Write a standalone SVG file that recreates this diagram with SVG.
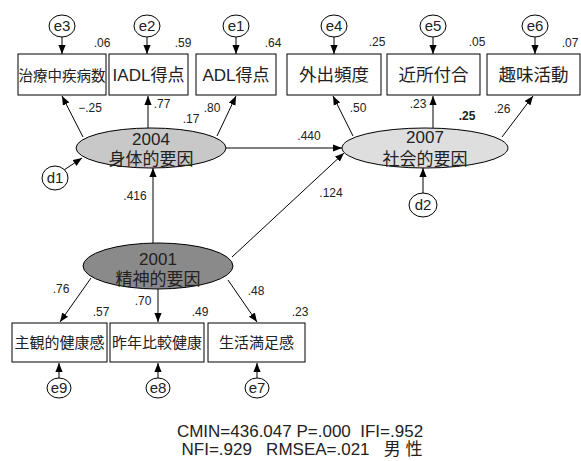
<svg xmlns="http://www.w3.org/2000/svg" width="581" height="461" viewBox="0 0 581 461">
<defs>
<marker id="ah" markerUnits="userSpaceOnUse" markerWidth="9" markerHeight="8" viewBox="0 0 10 8" refX="10" refY="4" orient="auto">
<path d="M0,0 L10,4 L0,8 z" fill="#000"/>
</marker>
<style>
.box{fill:#fff;stroke:#000;stroke-width:1}
.cir{fill:#fff;stroke:#000;stroke-width:1}
.t{font-family:"Liberation Sans","Noto Sans CJK JP",sans-serif;text-anchor:middle;fill:#222}
.lbl{font-family:"Liberation Sans","Noto Sans CJK JP",sans-serif;font-size:12px;text-anchor:middle;fill:#222}
.ct{font-size:15px}
.ln{stroke:#000;stroke-width:1;fill:none;marker-end:url(#ah)}
</style>
</defs>
<rect width="581" height="461" fill="#fff"/>

<g id="connectors">
<path class="ln" d="M62,37 L62,54"/>
<path class="ln" d="M147,37 L147,54"/>
<path class="ln" d="M236,37 L236,54"/>
<path class="ln" d="M334,37 L334,54"/>
<path class="ln" d="M433,37 L433,54"/>
<path class="ln" d="M535,37 L535,54"/>
<path class="ln" d="M83,137 L62,96"/>
<path class="ln" d="M148,128 L148,96"/>
<path class="ln" d="M217,136 L236,96"/>
<path class="ln" d="M226,148 L342,148"/>
<path class="ln" d="M153,243 L153,168"/>
<path class="ln" d="M232,257 L344,153"/>
<path class="ln" d="M353,136 L333,96"/>
<path class="ln" d="M433,128 L433,96"/>
<path class="ln" d="M502,137 L533,96"/>
<path class="ln" d="M423,193 L423,168"/>
<path class="ln" d="M64,170 L82,158"/>
<path class="ln" d="M91,278 L60,322"/>
<path class="ln" d="M158,289 L158,322"/>
<path class="ln" d="M228,280 L257,322"/>
<path class="ln" d="M59,378 L59,363"/>
<path class="ln" d="M158,378 L158,363"/>
<path class="ln" d="M257,378 L257,363"/>
</g>

<g id="e3"><ellipse class="cir" cx="62" cy="26" rx="13" ry="11"/><text class="t ct" x="62" y="31">e3</text></g>
<g id="e2"><ellipse class="cir" cx="147" cy="26" rx="13" ry="11"/><text class="t ct" x="147" y="31">e2</text></g>
<g id="e1"><ellipse class="cir" cx="236" cy="26" rx="13" ry="11"/><text class="t ct" x="236" y="31">e1</text></g>
<g id="e4"><ellipse class="cir" cx="334" cy="26" rx="13" ry="11"/><text class="t ct" x="334" y="31">e4</text></g>
<g id="e5"><ellipse class="cir" cx="433" cy="26" rx="13" ry="11"/><text class="t ct" x="433" y="31">e5</text></g>
<g id="e6"><ellipse class="cir" cx="535" cy="26" rx="13" ry="11"/><text class="t ct" x="535" y="31">e6</text></g>

<g id="chiryo"><rect class="box" x="18" y="54" width="88" height="41"/><text class="t" x="62" y="81" font-size="14.5">治療中疾病数</text></g>
<g id="iadl"><rect class="box" x="109" y="54" width="79" height="41"/><text class="t" x="148.5" y="81" font-size="17">IADL得点</text></g>
<g id="adl"><rect class="box" x="196" y="54" width="80" height="41"/><text class="t" x="236" y="81" font-size="17">ADL得点</text></g>
<g id="gaishutsu"><rect class="box" x="287" y="54" width="94" height="41"/><text class="t" x="334" y="81" font-size="17.5">外出頻度</text></g>
<g id="kinjo"><rect class="box" x="387" y="54" width="93" height="41"/><text class="t" x="433.5" y="81" font-size="17.5">近所付合</text></g>
<g id="shumi"><rect class="box" x="487" y="54" width="93" height="41"/><text class="t" x="533.5" y="81" font-size="17.5">趣味活動</text></g>

<g id="f2004"><ellipse cx="151" cy="148" rx="75" ry="20" fill="#c8c8c8" stroke="#000"/><text class="t" x="151" y="145" font-size="17">2004</text><text class="t" x="151" y="165" font-size="17">身体的要因</text></g>
<g id="f2007"><ellipse cx="425" cy="148" rx="83" ry="20" fill="#dedede" stroke="#000"/><text class="t" x="425" y="143" font-size="17">2007</text><text class="t" x="425" y="165" font-size="17">社会的要因</text></g>
<g id="f2001"><ellipse cx="158" cy="266" rx="75" ry="23" fill="#8a8a8a" stroke="#000"/><text class="t" x="158" y="265" font-size="17">2001</text><text class="t" x="158" y="285" font-size="17">精神的要因</text></g>

<g id="d1"><ellipse class="cir" cx="55" cy="178" rx="13" ry="12"/><text class="t ct" x="55" y="183">d1</text></g>
<g id="d2"><ellipse class="cir" cx="423" cy="205" rx="14" ry="12"/><text class="t ct" x="423" y="210">d2</text></g>

<g id="shukan"><rect class="box" x="12" y="323" width="95" height="39"/><text class="t" x="59.5" y="348" font-size="15">主観的健康感</text></g>
<g id="sakunen"><rect class="box" x="110" y="323" width="94" height="39"/><text class="t" x="157" y="348" font-size="15">昨年比較健康</text></g>
<g id="seikatsu"><rect class="box" x="208" y="323" width="97" height="39"/><text class="t" x="256.5" y="348" font-size="15">生活満足感</text></g>

<g id="e9"><ellipse class="cir" cx="59" cy="388" rx="12" ry="10"/><text class="t ct" x="59" y="393">e9</text></g>
<g id="e8"><ellipse class="cir" cx="158" cy="388" rx="12" ry="10"/><text class="t ct" x="158" y="393">e8</text></g>
<g id="e7"><ellipse class="cir" cx="257" cy="388" rx="12" ry="10"/><text class="t ct" x="257" y="393">e7</text></g>

<g id="labels">
<text class="lbl" x="102" y="47">.06</text>
<text class="lbl" x="183" y="47">.59</text>
<text class="lbl" x="273" y="47">.64</text>
<text class="lbl" x="377" y="46">.25</text>
<text class="lbl" x="477" y="46">.05</text>
<text class="lbl" x="570" y="47">.07</text>
<text class="lbl" x="90" y="112">−.25</text>
<text class="lbl" x="162" y="108">.77</text>
<text class="lbl" x="191" y="123">.17</text>
<text class="lbl" x="212" y="112">.80</text>
<text class="lbl" x="358" y="112">.50</text>
<text class="lbl" x="418" y="108">.23</text>
<text class="lbl" x="467" y="120" font-size="15" font-weight="bold">.25</text>
<text class="lbl" x="502" y="113">.26</text>
<text class="lbl" x="309" y="140">.440</text>
<text class="lbl" x="331" y="197">.124</text>
<text class="lbl" x="135" y="200">.416</text>
<text class="lbl" x="61" y="293">.76</text>
<text class="lbl" x="101" y="316">.57</text>
<text class="lbl" x="143" y="305">.70</text>
<text class="lbl" x="200" y="316">.49</text>
<text class="lbl" x="256" y="295">.48</text>
<text class="lbl" x="300" y="316">.23</text>
</g>

<g id="stats">
<text class="t" x="300" y="437" font-size="17" style="white-space:pre">CMIN=436.047 P=.000  IFI=.952</text>
<text class="t" x="302" y="455" font-size="17" style="white-space:pre">NFI=.929   RMSEA=.021   男 性</text>
</g>
</svg>
